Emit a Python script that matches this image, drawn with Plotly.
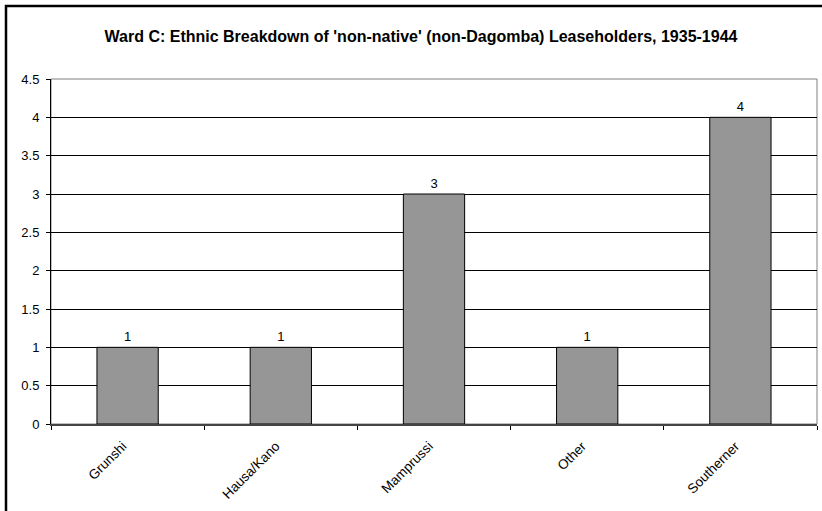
import plotly.graph_objects as go

categories = ["Grunshi", "Hausa/Kano", "Mamprussi", "Other", "Southerner"]
values = [1, 1, 3, 1, 4]
y_ticks = [0, 0.5, 1, 1.5, 2, 2.5, 3, 3.5, 4, 4.5]
y_tick_labels = ["0", "0.5", "1", "1.5", "2", "2.5", "3", "3.5", "4", "4.5"]
title = "Ward C: Ethnic Breakdown of 'non-native' (non-Dagomba) Leaseholders, 1935-1944"

W, H = 822, 511
ml, mr, mt, mb = 51, 5, 79, 87
pw, ph = W - ml - mr, H - mt - mb
FONT = "Liberation Sans, Arial"

fig = go.Figure(go.Bar(
    x=categories, y=values,
    marker=dict(color="#969696", line=dict(color="black", width=1)),
    text=[str(v) for v in values], textposition="outside",
    textfont=dict(family=FONT, size=13, color="black"),
    cliponaxis=False, width=0.4,
))

def px_x(p):
    return (p - ml) / pw

def px_y(p):
    return 1 - (p - mt) / ph

fig.update_layout(
    width=W, height=H,
    margin=dict(l=ml, r=mr, t=mt, b=mb, autoexpand=False),
    paper_bgcolor="white", plot_bgcolor="white",
    showlegend=False,
    font=dict(family=FONT, size=13, color="black"),
    title=dict(text="<b>" + title + "</b>", x=421 / W, xanchor="center",
               y=1 - 36 / H, yanchor="middle",
               font=dict(family=FONT, size=16, color="black")),
    shapes=[
        dict(type="rect", xref="paper", yref="paper", x0=0, x1=1, y0=0, y1=1,
             line=dict(color="#808080", width=1), layer="below"),
        dict(type="rect", xref="paper", yref="paper",
             x0=px_x(6), x1=px_x(860), y0=px_y(560), y1=px_y(6),
             line=dict(color="black", width=2.5), layer="above"),
    ],
)
fig.update_xaxes(
    type="category", tickangle=-45, tickson="boundaries",
    ticks="outside", ticklen=4, tickcolor="black",
    showline=True, linecolor="#444444", linewidth=2,
    showgrid=False, tickfont=dict(size=13.5), automargin=False,
    ticklabelstandoff=7, ticklabelshift=-5,
)
fig.update_yaxes(
    range=[0, 4.5], tickvals=y_ticks, ticktext=y_tick_labels,
    ticks="outside", ticklen=4, tickcolor="black",
    showline=True, linecolor="black", linewidth=1,
    showgrid=True, gridcolor="black", gridwidth=1,
    zeroline=False, tickfont=dict(size=13), automargin=False,
    ticklabelstandoff=4,
)
fig.write_html("out.html", config={"displayModeBar": False},
               post_script="document.body.style.margin='0';document.body.style.padding='0';")
